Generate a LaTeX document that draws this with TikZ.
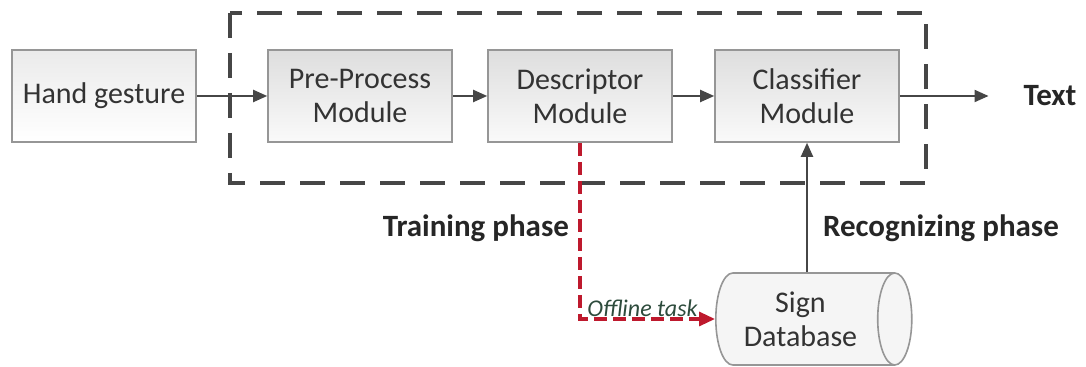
\documentclass[tikz,border=0pt]{standalone}
\usepackage{fontspec}
\setmainfont{Carlito}
\usetikzlibrary{shapes.geometric,arrows.meta}
\definecolor{edgegray}{RGB}{150,150,150}
\definecolor{linegray}{RGB}{70,70,70}
\definecolor{trainred}{RGB}{190,25,45}
\definecolor{taskgreen}{RGB}{45,75,60}
\begin{document}
\begin{tikzpicture}[x=0.5pt,y=-0.5pt,
  module/.style={draw=edgegray,line width=0.8pt,top color=black!13,bottom color=black!2,
    minimum width=92pt,minimum height=46pt,align=center,text=black!80,
    font=\fontsize{15}{17}\selectfont},
  flow/.style={draw=linegray,line width=1pt,-{Triangle[length=7pt,width=6pt]}},
  phase/.style={font=\fontsize{15.5}{18}\selectfont\bfseries,text=black!85}]
\useasboundingbox (0,0) rectangle (1086,367);
% the recognition block
\draw[linegray,line width=1.6pt,dash pattern=on 12.5pt off 7.5pt] (230,13) rectangle (926,183);
% the boxes
\node[module,top color=black!8,bottom color=white] (hand) at (104,96) {Hand gesture};
\node[module] (pre) at (360,96) {Pre-Process\\Module};
\node[module] (desc) at (580,96) {Descriptor\\Module};
\node[module] (cls) at (807,96) {Classifier\\Module};
\node[phase] (txt) at (1050,96) {Text};
\node[draw=edgegray,line width=0.8pt,cylinder,aspect=0.5,minimum width=46pt,minimum height=98pt,
  fill=black!4,align=center,text=black!80,font=\fontsize{15}{17}\selectfont,anchor=west] (db) at (715,319) {Sign\\Database};
% the flow
\draw[flow] (hand) -- (pre);
\draw[flow] (pre) -- (desc);
\draw[flow] (desc) -- (cls);
\draw[flow,shorten >=14pt] (cls) -- (txt);
\draw[flow] (cls.south |- db.north) -- (cls.south);
% the offline training
\draw[trainred,line width=1.6pt,dash pattern=on 6.5pt off 3pt,-{Triangle[length=8pt,width=7pt]}]
  (desc.south) |- (db.west);
\node[anchor=south west,inner sep=1pt,text=taskgreen,font=\fontsize{12}{14}\selectfont\itshape]
  (task) at (585,319) {Offline task};
% the phase labels
\node[phase,anchor=east] (train) at (576,228) {Training phase};
\node[phase,anchor=west] (recog) at (816,228) {Recognizing phase};
\end{tikzpicture}
\end{document}
